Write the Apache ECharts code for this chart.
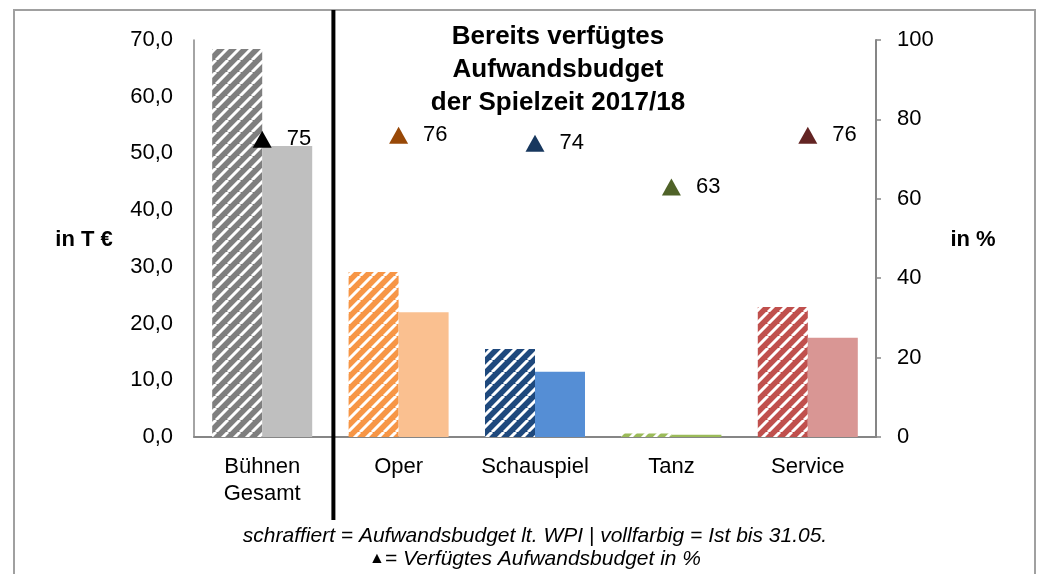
<!DOCTYPE html>
<html>
<head>
<meta charset="utf-8">
<script src="https://cdn.jsdelivr.net/npm/echarts@6/dist/echarts.min.js"></script>
<style>html,body{margin:0;padding:0;background:#fff}#c{width:1041px;height:574px}</style>
</head>
<body>
<div id="c"></div>
<script>
const categories = ['Bühnen\nGesamt', 'Oper', 'Schauspiel', 'Tanz', 'Service'];
const budgetWPI = [68.4, 29.1, 15.5, 0.6, 22.9];
const istBis3105 = [51.3, 22.0, 11.5, 0.38, 17.5];
const verfuegtPct = [75, 76, 74, 63, 76];
const leftTicks = [0, 10, 20, 30, 40, 50, 60, 70];
const rightTicks = [0, 20, 40, 60, 80, 100];

const hatchColors = ['#7f7f7f', '#f79646', '#1f497d', '#9bbb59', '#c0504d'];
const solidColors = ['#bfbfbf', '#fac090', '#558ed5', '#9bbb59', '#d99694'];
const triColors = ['#000000', '#984807', '#17375e', '#4f6228', '#632423'];

function hatch(color) {
  const c = document.createElement('canvas');
  const w = 12, h = 12;
  c.width = w; c.height = h;
  const g = c.getContext('2d');
  g.fillStyle = color; g.fillRect(0, 0, w, h);
  g.strokeStyle = '#ffffff'; g.lineWidth = 3;
  g.beginPath();
  for (let k = -1; k <= 1; k++) { g.moveTo(k * w, h); g.lineTo(k * w + w, 0); }
  g.stroke();
  return { image: c, repeat: 'repeat' };
}

const FONT = 'Liberation Sans, Arial, sans-serif';
const chart = echarts.init(document.getElementById('c'), null, { renderer: 'canvas' });

const option = {
  animation: false,
  backgroundColor: '#ffffff',
  textStyle: { fontFamily: FONT },
  title: {
    text: 'Bereits verfügtes\nAufwandsbudget\nder Spielzeit 2017/18',
    left: 553, top: 15, textAlign: 'center',
    textStyle: { fontFamily: FONT, fontSize: 26, fontWeight: 'bold', color: '#000', lineHeight: 33 }
  },
  grid: { left: 194, right: 165, top: 40, bottom: 137, containLabel: false },
  xAxis: {
    type: 'category', data: categories,
    axisLine: { lineStyle: { color: '#868686', width: 2 } },
    axisTick: { show: false },
    axisLabel: { color: '#000', fontSize: 22, fontFamily: FONT, margin: 16, lineHeight: 27, interval: 0 }
  },
  yAxis: [
    {
      type: 'value', min: 0, max: 70, interval: 10,
      axisLine: { show: true, lineStyle: { color: '#868686', width: 1.5 } },
      axisTick: { show: false }, splitLine: { show: false },
      axisLabel: { color: '#000', fontSize: 22, fontFamily: FONT, margin: 21,
        formatter: v => v.toFixed(1).replace('.', ',') }
    },
    {
      type: 'value', min: 0, max: 100, interval: 20, position: 'right',
      axisLine: { show: true, lineStyle: { color: '#868686', width: 2 } },
      axisTick: { show: true, inside: false, length: 5, lineStyle: { color: '#868686', width: 1.5 } },
      splitLine: { show: false },
      axisLabel: { color: '#000', fontSize: 22, fontFamily: FONT, margin: 21 }
    }
  ],
  series: [
    {
      name: 'Aufwandsbudget lt. WPI', type: 'bar', yAxisIndex: 0,
      barWidth: 50, barGap: '0%',
      data: budgetWPI.map((v, i) => ({ value: v, itemStyle: { color: hatch(hatchColors[i]) } }))
    },
    {
      name: 'Ist bis 31.05.', type: 'bar', yAxisIndex: 0,
      barWidth: 50, barGap: '0%',
      data: istBis3105.map((v, i) => ({ value: v, itemStyle: { color: solidColors[i] } }))
    },
    {
      name: 'Verfügtes Aufwandsbudget in %', type: 'scatter', yAxisIndex: 1,
      symbol: 'triangle', symbolSize: [19, 17], z: 5,
      itemStyle: { opacity: 1 },
      label: { show: true, position: 'right', distance: 15, color: '#000', fontSize: 22, fontFamily: FONT,
        formatter: p => String(p.value) },
      data: verfuegtPct.map((v, i) => ({ value: v, itemStyle: { color: triColors[i], opacity: 1 } }))
    }
  ]
};
chart.setOption(option);

const x0 = chart.convertToPixel({ xAxisIndex: 0 }, 0);
const x1 = chart.convertToPixel({ xAxisIndex: 0 }, 1);
const sepX = (x0 + x1) / 2 + 3;

chart.setOption({
  graphic: [
    { type: 'rect', shape: { x: 14, y: 10, width: 1021, height: 580 }, silent: true,
      style: { fill: 'none', stroke: '#a0a0a0', lineWidth: 2 }, z: -1 },
    { type: 'line', shape: { x1: sepX, y1: 10, x2: sepX, y2: 520 }, silent: true,
      style: { stroke: '#000', lineWidth: 4 }, z: 10 },
    { type: 'text', x: 84, y: 240, silent: true,
      style: { text: 'in T €', font: 'bold 22px ' + FONT, fill: '#000', textAlign: 'center', textVerticalAlign: 'middle' } },
    { type: 'text', x: 973, y: 240, silent: true,
      style: { text: 'in %', font: 'bold 22px ' + FONT, fill: '#000', textAlign: 'center', textVerticalAlign: 'middle' } },
    { type: 'text', x: 535, y: 536, silent: true,
      style: { text: 'schraffiert = Aufwandsbudget lt. WPI | vollfarbig = Ist bis 31.05.', font: 'italic 21px ' + FONT,
        fill: '#000', textAlign: 'center', textVerticalAlign: 'middle' } },
    { type: 'text', x: 535, y: 559, silent: true,
      style: { text: '{t|▲}{s|= Verfügtes Aufwandsbudget in %}', textAlign: 'center', textVerticalAlign: 'middle',
        rich: { t: { fontSize: 16, fontFamily: FONT, fill: '#000', color: '#000' },
                s: { fontSize: 21, fontStyle: 'italic', fontFamily: FONT, fill: '#000', color: '#000' } } } }
  ]
});
</script>
</body>
</html>
